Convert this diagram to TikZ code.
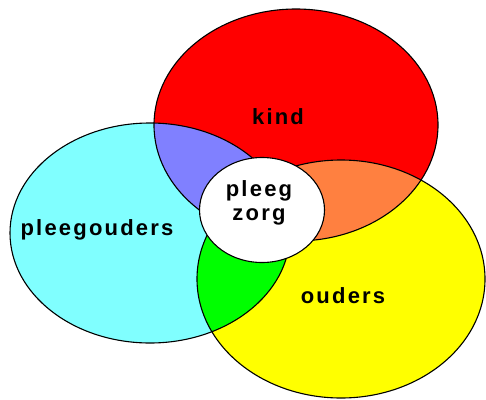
\documentclass[tikz,border=0pt]{standalone}
\usepackage{fontspec}
\setmainfont{Liberation Sans}
\newfontfamily\vennfont[LetterSpace=10]{Liberation Sans}
\definecolor{kindred}{HTML}{FF0000}
\definecolor{pleegcyan}{HTML}{80FFFF}
\definecolor{oudersyellow}{HTML}{FFFF00}
\definecolor{mixblue}{HTML}{8080FF}
\definecolor{mixorange}{HTML}{FF8040}
\definecolor{mixgreen}{HTML}{00FF00}
\tikzset{lbl/.style={font=\vennfont\fontsize{22}{23}\selectfont\bfseries, inner sep=0pt}}
\begin{document}
\begin{tikzpicture}[x=1pt,y=-1pt,line width=1.1pt]
\useasboundingbox (0,0) rectangle (486,399);
\def\kindE{(296,125) ellipse [x radius=142, y radius=116]}
\def\pleegE{(150,233) ellipse [x radius=140, y radius=110]}
\def\oudersE{(341,279) ellipse [x radius=144, y radius=119]}
\fill[pleegcyan] \pleegE;
\fill[kindred] \kindE;
\fill[oudersyellow] \oudersE;
\begin{scope}
\clip \kindE;
\fill[mixblue] \pleegE;
\fill[mixorange] \oudersE;
\end{scope}
\begin{scope}
\clip \pleegE;
\fill[mixgreen] \oudersE;
\end{scope}
\draw \pleegE;
\draw \kindE;
\draw \oudersE;
\draw[fill=white] (262,210) ellipse [x radius=62.5, y radius=52.5];
\node[lbl] (kind) at (278,117) {kind};
\node[lbl] (pleegouders) at (97,230) {pleegouders};
\node[lbl] (ouders) at (343,296) {ouders};
\node[lbl, align=center] (pleegzorg) at (259,203) {pleeg\\[1pt]zorg};
\end{tikzpicture}
\end{document}
